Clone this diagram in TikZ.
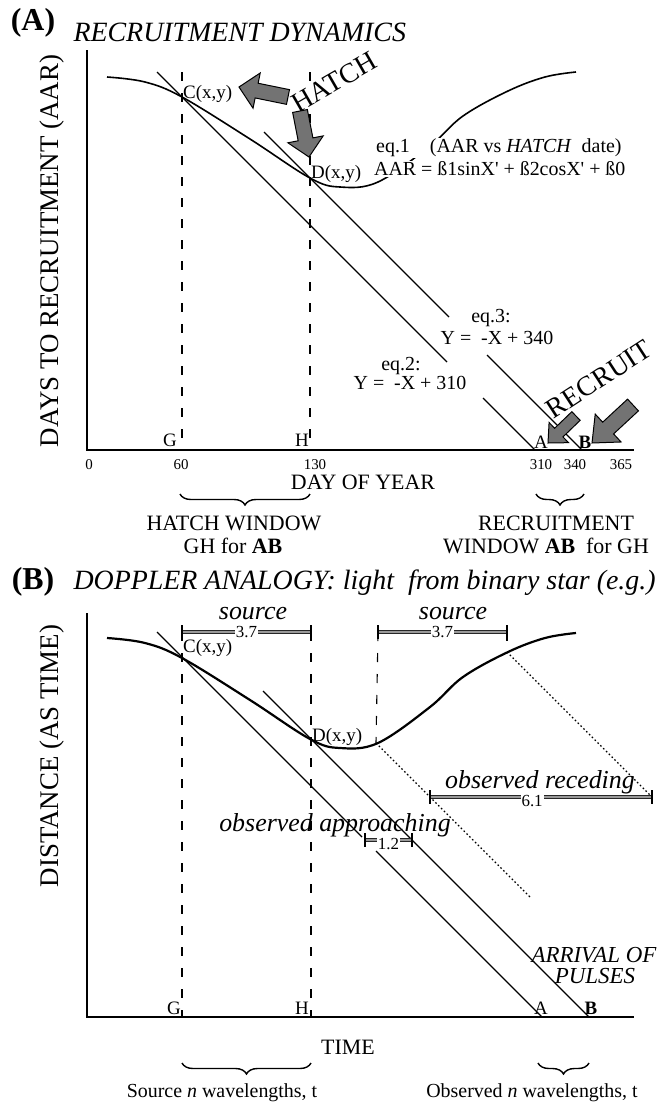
\documentclass[tikz,border=0pt]{standalone}
\usepackage{fontspec}
\setmainfont{Liberation Serif}
\usetikzlibrary{calc,decorations.pathreplacing}

\tikzset{
  axisline/.style={line width=2.4bp},
  slopeline/.style={line width=1.2bp},
  guide/.style={line width=1.1bp, dash pattern=on 9bp off 12bp},
  echo/.style={line width=1.2bp, dash pattern=on 1.6bp off 2.4bp},
  curveA/.style={line width=1.6bp},
  curveB/.style={line width=2.2bp},
  fatarrow/.style={fill=black!55, draw=black, line width=1bp, line join=miter},
  dimbar/.style={draw=black!85, double=black!40, double distance=1.8bp, line width=0.8bp},
  dimtick/.style={line width=1.8bp},
  window/.style={decorate, decoration={brace, mirror, amplitude=11bp}, line width=1.4bp},
  panelletter/.style={font=\fontsize{32}{34}\selectfont\bfseries},
  paneltitle/.style={font=\fontsize{28}{30}\selectfont\itshape},
  axislabel/.style={font=\fontsize{27}{29}\selectfont},
  axistitle/.style={font=\fontsize{22}{24}\selectfont},
  caption/.style={font=\fontsize{22}{24}\selectfont},
  ticklabel/.style={font=\fontsize{15}{17}\selectfont},
  pointlabel/.style={font=\fontsize{19}{21}\selectfont, inner sep=1pt},
  eqtext/.style={font=\fontsize{20}{22}\selectfont, inner sep=1pt},
  bigword/.style={font=\fontsize{28}{30}\selectfont, inner sep=0pt},
  obs/.style={font=\fontsize{26}{28}\selectfont\itshape},
  arrival/.style={font=\fontsize{23}{25}\selectfont\itshape},
  dimnum/.style={font=\fontsize{17}{19}\selectfont, fill=white, inner sep=1pt},
  footnote/.style={font=\fontsize{20}{22}\selectfont}
}

% shaded block arrow: tail, tip, half shaft, half head, head length
\newcommand{\fatarrow}[5]{
  \coordinate (fa-b) at ($(#2)!#5!(#1)$);
  \filldraw[fatarrow] ($(#1)!#3!90:(#2)$) -- ($(fa-b)!#3!90:(#2)$) -- ($(fa-b)!#4!90:(#2)$)
    -- (#2) -- ($(fa-b)!#4!-90:(#2)$) -- ($(fa-b)!#3!-90:(#2)$) -- ($(#1)!#3!-90:(#2)$) -- cycle;
}

% AAR against hatch date
\newcommand{\sinecurve}[1]{
  \draw[#1] plot[smooth, tension=0.6] coordinates {(107,77) (145,82) (182,97) (250,139)
    (310,178) (340,187) (378,182) (430,146) (463,116) (508,91) (545,77) (576,72)};
}

\begin{document}
\begin{tikzpicture}[x=1bp, y=-1bp]
\useasboundingbox (0,0) rectangle (665,1106);

%% (A) recruitment dynamics
\node[panelletter] (pa) at (33,23) {(A)};
\node[paneltitle, anchor=west] (ta) at (70,32) {RECRUITMENT DYNAMICS};

\coordinate (oA) at (87,450);
\coordinate (yA) at (87,50);
\coordinate (xA) at (634,450);
\draw[axisline] (yA) -- (oA) -- (xA);
\node[axislabel, rotate=90] (ya) at (52,251) {DAYS TO RECRUITMENT (AAR)};

\coordinate (C1) at (182,97);
\coordinate (D1) at (310,178);
\coordinate (A1) at (535,450);
\coordinate (B1) at (582,450);
\coordinate (G1) at (182,450);
\coordinate (H1) at (310,450);
\coordinate (gtop1) at (182,72);
\coordinate (htop1) at (310,72);

\draw[guide] (gtop1) -- (G1);
\draw[guide] (htop1) -- (H1);

\sinecurve{curveA}

% Y = -X + 310 and Y = -X + 340
\coordinate (l2s) at (157,72);
\coordinate (l2a) at (447,362);
\coordinate (l2b) at (483,398);
\coordinate (l3s) at (264,132);
\coordinate (l3a) at (449,317);
\coordinate (l3b) at (487,355);
\draw[slopeline] (l2s) -- (l2a) (l2b) -- (A1);
\draw[slopeline] (l3s) -- (l3a) (l3b) -- (B1);

\node[eqtext, anchor=west, fill=white] (eq1a) at (375,148) {eq.1\quad(AAR vs \textit{HATCH}\ \ date)};
\node[eqtext, anchor=west, fill=white] (eq1b) at (373,169) {AAR = ß1sinX\textquotesingle{} + ß2cosX\textquotesingle{} + ß0};
\node[eqtext] (eq2a) at (401,366) {eq.2:};
\node[eqtext] (eq2b) at (410,383) {Y =\ \ -X + 310};
\node[eqtext] (eq3a) at (491,318) {eq.3:};
\node[eqtext] (eq3b) at (497,338) {Y =\ \ -X + 340};

\node[pointlabel, anchor=west] (lc1) at (182,94) {C(x,y)};
\node[pointlabel, anchor=west] (ld1) at (310,174) {D(x,y)};

\node[bigword, rotate=30, fill=white] (hatch) at (334,82) {HATCH};
\fatarrow{288,97}{239,87}{7.5bp}{18bp}{18bp}
\fatarrow{300,111}{309,157}{7.5bp}{18bp}{18bp}

\node[bigword, rotate=33] (recruit) at (599,379) {RECRUIT};
\fatarrow{576,416}{548,443}{6bp}{14bp}{15bp}
\fatarrow{633,405}{592,443}{8bp}{19bp}{22bp}

\node[pointlabel] (g1) at (170,440) {G};
\node[pointlabel] (h1) at (302,440) {H};
\node[pointlabel] (a1) at (541,442) {A};
\node[pointlabel] (b1) at (585,442) {\textbf{B}};

\foreach \x/\t in {89/0, 181/60, 315/130, 541/310, 575/340, 621/365}
  \node[ticklabel] (t\t) at (\x,465) {\t};
\node[axistitle] (xa) at (363,482) {DAY OF YEAR};

\draw[window] (180,494) -- (310,494);
\draw[window] (536,494) -- (584,494);
\node[caption] (hw1) at (234,523) {HATCH WINDOW};
\node[caption] (hw2) at (233,546) {GH for \textbf{AB}};
\node[caption] (rw1) at (556,523) {RECRUITMENT};
\node[caption] (rw2) at (546,546) {WINDOW \textbf{AB}\ \ for GH};

%% (B) doppler analogy
\node[panelletter] (pb) at (33,582) {(B)};
\node[paneltitle, anchor=west] (tb) at (70,583) {DOPPLER ANALOGY: light\ \ from binary star (e.g.)};

\coordinate (oB) at (87,1017);
\coordinate (yB) at (87,613);
\coordinate (xB) at (634,1017);
\draw[axisline] (yB) -- (oB) -- (xB);
\node[axislabel, rotate=90] (yb) at (52,756) {DISTANCE (AS TIME)};

\coordinate (C2) at (182,657);
\coordinate (D2) at (311,739);
\coordinate (A2) at (542,1017);
\coordinate (B2) at (589,1017);
\coordinate (G2) at (182,1017);
\coordinate (H2) at (311,1017);

% source periods
\coordinate (s1l) at (182,632);
\coordinate (s1r) at (311,632);
\coordinate (s2l) at (378,632);
\coordinate (s2r) at (507,632);
\coordinate (e1) at (376,743);
\coordinate (e2) at (507,652);
\coordinate (e1end) at (530,897);
\coordinate (r1) at (430,797);
\coordinate (r2) at (652,797);
\coordinate (q1) at (365,840);
\coordinate (q2) at (412,840);

\draw[guide] (s1l) -- (G2);
\draw[guide] (s1r) -- (H2);
\draw[guide] (s2l) -- (e1);
\draw[guide] (s2r) -- (e2);

\begin{scope}[shift={(0,561)}]
\sinecurve{curveB}
\end{scope}

\coordinate (m2s) at (157,632);
\coordinate (m2a) at (362,837);
\coordinate (m2b) at (376,851);
\coordinate (m3s) at (263,691);
\draw[slopeline] (m2s) -- (m2a) (m2b) -- (A2);
\draw[slopeline] (m3s) -- (B2);
\draw[echo] (e1) -- (e1end);
\draw[echo] (e2) -- (r2);

\draw[dimbar] (s1l) -- (s1r) node[midway, dimnum] (n37a) {3.7};
\draw[dimbar] (s2l) -- (s2r) node[midway, dimnum] (n37b) {3.7};
\draw[dimbar] (r1) -- (r2) node[pos=0.46, dimnum, yshift=-4bp] (n61) {6.1};
\draw[dimbar] (q1) -- (q2) node[midway, dimnum, yshift=-4bp] (n12) {1.2};
\foreach \p in {s1l, s1r, s2l, s2r, r1, r2, q1, q2}
  \draw[dimtick] ($(\p)+(0,-7)$) -- ($(\p)+(0,7)$);

\node[obs] (src1) at (253,614) {source};
\node[obs] (src2) at (453,614) {source};
\node[obs] (rec) at (540,782) {observed receding};
\node[obs] (app) at (335,825) {observed approaching};

\node[pointlabel, anchor=west] (lc2) at (182,648) {C(x,y)};
\node[pointlabel, anchor=west] (ld2) at (311,737) {D(x,y)};

\node[arrival] (arr1) at (594,955) {ARRIVAL OF};
\node[arrival] (arr2) at (595,976) {PULSES};

\node[pointlabel] (g2) at (174,1008) {G};
\node[pointlabel] (h2) at (302,1008) {H};
\node[pointlabel] (a2) at (541,1008) {A};
\node[pointlabel] (b2) at (591,1008) {\textbf{B}};

\node[axistitle] (tm) at (348,1047) {TIME};
\draw[window] (182,1063) -- (311,1063);
\draw[window] (538,1063) -- (589,1063);
\node[footnote] (sw) at (222,1093) {Source \textit{n} wavelengths, t};
\node[footnote] (ow) at (532,1093) {Observed \textit{n} wavelengths, t};
\end{tikzpicture}
\end{document}
